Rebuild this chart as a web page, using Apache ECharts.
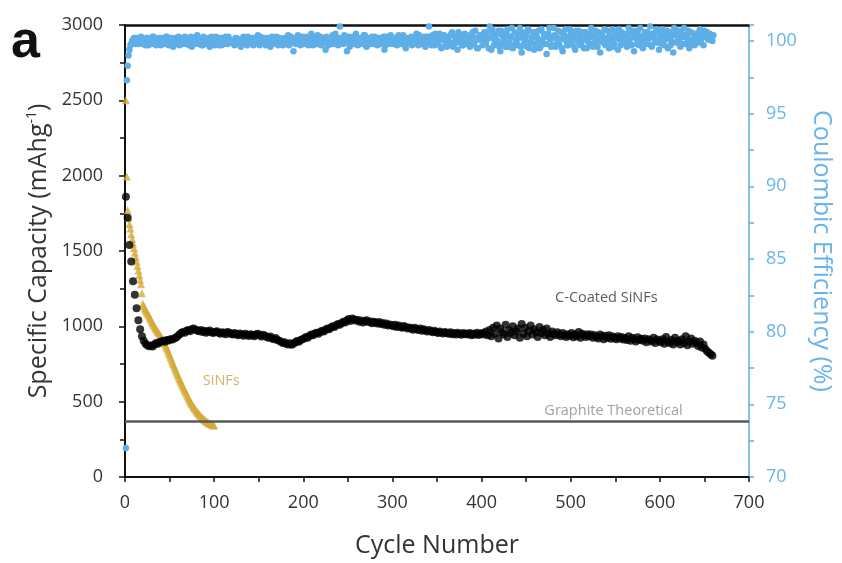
<!DOCTYPE html>
<html>
<head>
<meta charset="utf-8">
<script src="https://cdn.jsdelivr.net/npm/echarts@6/dist/echarts.min.js"></script>
<style>
html,body{margin:0;padding:0;background:#fff;}
#chart{width:842px;height:563px;}
</style>
</head>
<body>
<div id="chart"></div>
<script>
// C-Coated SiNFs specific capacity (mAh/g), cycles 1,3,5,...,659
const cCoatedCap = [
1860,1720,1540,1430,1300,1210,1120,1040,980,935,
905,885,875,868,872,866,880,890,884,896,
900,905,898,910,906,915,912,920,925,935,
945,955,962,958,970,975,968,980,985,978,
972,968,975,962,970,958,966,972,960,955,
962,968,958,950,960,955,948,962,957,950,
945,955,948,940,952,946,938,950,944,936,
948,942,935,945,950,940,932,944,938,930,
925,932,920,915,922,910,905,898,890,895,
885,880,888,878,885,895,902,898,910,915,
920,930,925,938,945,940,952,958,950,962,
970,965,978,985,980,992,1000,995,1008,1015,
1010,1022,1030,1025,1040,1048,1035,1052,1045,1038,
1042,1030,1038,1025,1035,1040,1028,1032,1020,1030,
1025,1018,1028,1015,1022,1010,1018,1005,1012,1008,
1000,1010,995,1005,998,990,1002,994,985,992,
985,978,990,982,975,985,970,980,972,965,
975,968,960,970,962,955,966,958,952,962,
955,950,960,948,956,945,958,950,944,955,
948,952,945,955,940,950,946,958,942,950,
955,945,965,940,975,935,990,950,1005,920,
985,960,945,1010,930,975,955,1000,940,968,
985,925,1015,950,990,935,970,1005,945,980,
960,930,995,955,975,940,985,950,930,965,
950,940,960,945,935,955,942,930,948,938,
955,928,945,935,962,925,950,940,930,948,
935,945,925,940,930,920,945,935,915,938,
925,940,918,932,926,915,935,920,930,912,
922,910,935,905,925,915,900,928,910,918,
905,920,895,915,908,900,925,890,912,905,
895,915,885,930,900,890,910,880,925,895,
905,880,915,890,935,875,900,920,885,905,
890,870,900,860,880,850,835,825,815,805
];
// Coulombic efficiency (%) of C-Coated SiNFs, odd cycles 1,3,...,659
const coulombicEffOdd = [
72.0,98.3,99.4,99.8,100.1,99.9,100.2,99.8,100.0,99.9,
100.1,99.7,100.2,99.9,99.8,100.3,100.0,99.7,100.1,99.9,
100.2,99.8,100.0,100.3,99.7,99.9,100.1,99.8,100.2,100.0,
99.7,100.1,99.9,100.3,99.8,100.0,100.2,99.6,100.1,99.9,
100.4,99.8,100.0,99.7,100.2,99.9,100.1,99.6,100.3,100.0,
99.8,100.1,99.7,100.2,100.0,99.9,100.3,99.8,100.1,99.9,
100.0,99.7,100.2,99.9,100.1,99.8,100.3,100.0,99.7,100.1,
99.9,100.2,99.8,100.0,100.4,99.7,100.1,99.9,100.2,99.8,
100.0,99.6,100.3,99.9,100.1,99.8,100.2,100.0,99.7,100.1,
99.9,100.4,99.8,100.0,99.3,100.2,99.9,100.1,99.7,100.3,
100.0,99.8,100.2,99.9,100.5,99.7,100.1,100.0,99.8,100.3,
99.9,100.1,99.4,100.2,100.0,99.8,100.4,99.9,100.1,99.7,
101.0,100.2,99.8,100.0,99.3,100.3,99.9,100.1,99.8,100.5,
99.7,100.0,100.2,99.9,100.4,99.6,100.1,99.8,100.3,99.9,
100.0,99.7,100.2,99.9,100.1,99.4,100.3,99.8,100.0,100.2,
99.9,100.1,99.7,100.4,100.0,99.8,100.2,99.5,100.1,99.9,
100.3,99.8,100.0,100.5,99.7,100.2,99.9,100.1,99.6,100.3,
101.0,99.8,100.4,99.7,100.1,99.9,100.5,99.5,100.2,100.0,
99.6,100.3,99.9,100.6,99.8,100.1,99.4,100.4,100.0,99.7,
100.5,99.9,100.2,99.6,100.3,99.8,100.7,99.5,100.1,100.4,
99.7,100.6,99.9,100.2,101.0,99.4,100.5,100.0,99.8,100.7,
99.3,100.4,100.1,99.6,100.8,99.9,100.3,99.5,100.6,100.0,
99.7,100.9,99.2,100.4,100.1,99.6,100.7,99.9,100.3,99.4,
100.6,100.0,99.5,100.8,99.8,100.3,99.1,100.5,100.1,99.7,
100.9,99.6,100.2,99.8,100.6,99.3,100.4,100.0,99.7,100.8,
99.9,100.5,99.4,100.2,100.7,99.7,100.1,99.5,100.6,100.0,
99.8,100.9,99.6,100.3,99.9,100.6,99.2,100.4,100.1,99.7,
100.7,99.5,100.2,100.8,99.8,100.4,99.4,100.1,100.6,99.9,
100.3,99.6,100.9,99.8,100.5,99.3,100.2,100.7,99.7,100.1,
99.5,100.6,100.0,99.8,101.0,99.6,100.4,99.9,100.7,99.4,
100.2,100.8,99.7,100.3,99.5,100.6,100.0,99.2,100.5,99.9,
100.7,99.6,100.3,100.9,99.8,100.4,99.5,100.6,100.1,99.7,
100.5,99.9,100.8,100.2,99.7,100.4,100.6,100.1,100.3,100.0
];
// Coulombic efficiency (%) of C-Coated SiNFs, even cycles 2,4,...,660
const coulombicEffEven = [
97.3,99.0,99.7,100.0,100.2,99.8,100.1,99.9,100.3,99.8,
100.0,100.2,99.7,100.1,99.9,100.3,99.8,100.0,100.2,99.7,
100.1,99.9,100.3,99.8,100.0,100.2,99.6,100.1,99.9,100.3,
100.0,99.8,100.2,99.9,100.1,99.7,100.3,100.0,99.8,100.2,
99.9,100.1,99.7,100.3,100.0,99.8,100.2,99.9,100.1,99.7,
100.3,99.9,100.0,99.7,100.2,99.8,100.1,100.3,99.9,100.0,
99.8,100.2,99.9,100.1,99.6,100.0,100.2,99.8,100.3,99.9,
100.1,99.7,100.2,100.0,99.8,100.3,99.9,100.1,99.7,100.2,
99.9,100.2,99.8,100.0,100.3,99.7,100.1,99.9,100.2,99.8,
100.0,99.7,100.3,99.9,100.1,99.8,100.4,100.0,99.8,100.1,
99.9,100.3,99.7,100.1,99.9,100.2,99.8,100.4,100.0,99.7,
100.2,99.9,100.3,99.7,100.1,100.0,99.8,100.5,99.9,100.2,
99.8,100.1,100.4,99.9,100.2,99.6,100.0,100.3,99.8,100.1,
100.2,99.8,100.0,100.4,99.7,100.2,99.9,100.1,99.8,100.3,
99.9,100.2,99.8,100.0,100.3,99.7,100.1,99.9,100.4,99.8,
100.2,99.9,100.3,99.8,100.0,100.4,99.7,100.2,99.9,100.1,
99.7,100.2,99.9,100.1,100.4,99.8,100.0,100.3,99.8,100.1,
100.3,99.7,100.0,100.5,99.8,100.2,99.6,100.1,100.4,99.9,
100.2,99.8,100.5,99.6,100.3,99.9,100.6,100.0,99.7,100.3,
99.8,100.4,100.0,99.7,100.6,99.9,100.2,99.5,100.4,100.1,
100.3,99.8,100.6,99.5,100.2,100.8,99.7,100.4,100.0,99.6,
100.7,99.8,100.2,100.5,99.6,100.3,100.9,99.7,100.1,100.5,
100.2,99.6,100.6,99.9,100.4,100.8,99.5,100.2,100.6,99.8,
100.3,100.7,99.6,100.1,100.5,99.8,100.4,100.9,99.6,100.2,
100.4,99.8,100.7,100.1,99.5,100.3,100.8,99.7,100.2,100.5,
100.2,99.6,100.7,100.0,100.4,99.8,100.6,100.2,99.5,100.3,
100.5,99.8,100.2,100.7,99.6,100.1,100.5,99.9,100.8,100.2,
99.9,100.4,100.0,99.6,100.6,100.2,100.8,99.7,100.3,100.5,
99.9,100.5,100.1,99.7,100.7,100.3,99.8,100.4,100.9,100.0,
100.3,99.8,100.6,100.2,99.7,100.5,100.1,100.8,99.9,100.4,
99.8,100.5,100.1,100.7,100.2,99.7,100.4,100.9,99.9,100.3,
100.1,100.6,99.8,100.4,100.2,100.7,100.0,99.8,100.5,100.3,
100.2,100.6,99.9,100.4,100.7,100.3,100.1,100.5,100.2,100.4
];
// Bare SiNFs specific capacity (mAh/g), cycles 1..100
const sinfCap = [
2500,1995,1770,1720,1680,1650,1612,1580,1550,1520,
1490,1460,1430,1400,1370,1340,1310,1280,1220,1150,
1135,1120,1110,1100,1090,1080,1070,1055,1045,1030,
1020,1010,1000,990,980,972,962,955,945,935,
925,915,905,895,882,868,855,840,825,810,
795,780,765,750,736,722,708,694,680,665,
651,638,625,612,600,588,576,564,552,540,
528,516,505,494,484,474,465,456,448,440,
432,425,418,411,404,398,392,386,380,375,
370,366,362,358,355,352,349,346,344,342
];
const graphiteTheoretical = 372;
const xTicks = [0,100,200,300,400,500,600,700];
const capTicks = [0,500,1000,1500,2000,2500,3000];
const ceTicks = [70,75,80,85,90,95,100];
// annotation anchors [cycle, capacity]
const annotations = [
  {text:'C-Coated SiNFs', at:[540, 1118], color:'#333333'},
  {text:'Graphite Theoretical', at:[548, 372], color:'#8a8a8a'},
  {text:'SiNFs', at:[108, 566], color:'#c9a43c'}
];

const cCycles = cCoatedCap.map((_, i) => 1 + 2 * i);
const ceData = coulombicEffOdd.map((v, i) => [1 + 2 * i, v])
  .concat(coulombicEffEven.map((v, i) => [2 + 2 * i, v]));
const sinfCycles = sinfCap.map((_, i) => 1 + i);

const FONT = '"Open Sans", "DejaVu Sans", sans-serif';
const BLUE = '#5eaee8';
const GOLD = '#d3aa3a';

const chart = echarts.init(document.getElementById('chart'), null, {renderer: 'canvas'});
chart.setOption({
  animation: false,
  backgroundColor: '#ffffff',
  textStyle: {fontFamily: FONT},
  grid: {left: 125, right: 85, top: 25, bottom: 81, containLabel: false},
  xAxis: [{
    type: 'value', position: 'bottom',
    min: xTicks[0], max: xTicks[xTicks.length - 1], interval: 100,
    axisLine: {show: true, onZero: false, lineStyle: {color: '#111', width: 2}},
    axisTick: {show: true, length: 5, inside: false, lineStyle: {color: '#111', width: 1.5}},
    minorTick: {show: true, splitNumber: 2, length: 5, lineStyle: {color: '#111', width: 1.5}},
    splitLine: {show: false},
    axisLabel: {color: '#333', fontSize: 18, fontFamily: FONT, margin: 17,
      formatter: v => String(v)},
    name: 'Cycle Number', nameLocation: 'middle', nameGap: 56,
    nameTextStyle: {color: '#333', fontSize: 25, fontFamily: FONT}
  }, {
    type: 'value', position: 'top',
    min: xTicks[0], max: xTicks[xTicks.length - 1],
    axisLine: {show: true, onZero: false, lineStyle: {color: '#111', width: 2.5}},
    axisTick: {show: false}, axisLabel: {show: false}, splitLine: {show: false}
  }],
  yAxis: [{
    type: 'value', position: 'left',
    min: capTicks[0], max: capTicks[capTicks.length - 1], interval: 500,
    axisLine: {show: true, onZero: false, lineStyle: {color: '#111', width: 2}},
    axisTick: {show: true, length: 6, lineStyle: {color: '#111', width: 1.5}},
    minorTick: {show: true, splitNumber: 2, length: 5, lineStyle: {color: '#111', width: 1.5}},
    splitLine: {show: false},
    axisLabel: {color: '#333', fontSize: 18, fontFamily: FONT, margin: 22,
      formatter: v => String(v)},
    name: 'Specific Capacity (mAhg{sup|-1})', nameLocation: 'middle', nameGap: 70,
    nameTextStyle: {color: '#333', fontSize: 25, fontFamily: FONT,
      rich: {sup: {fontSize: 14, color: '#333', fontFamily: FONT, verticalAlign: 'top', padding: [0, 0, 12, 0]}}}
  }, {
    type: 'value', position: 'right',
    min: ceTicks[0], max: 101.1, interval: 5,
    axisLine: {show: true, onZero: false, lineStyle: {color: BLUE, width: 1.5}},
    axisTick: {show: true, length: 5, lineStyle: {color: BLUE, width: 1.5}},
    minorTick: {show: true, splitNumber: 2, length: 5, lineStyle: {color: BLUE, width: 1.5}},
    splitLine: {show: false},
    axisLabel: {color: '#6ab4ea', fontSize: 18, fontFamily: FONT, margin: 17,
      showMaxLabel: false,
      formatter: v => (ceTicks.indexOf(v) >= 0 ? String(v) : '')},
    name: 'Coulombic Efficiency (%)', nameLocation: 'middle', nameGap: 60, nameRotate: -90,
    nameTextStyle: {color: '#6ab4ea', fontSize: 25, fontFamily: FONT}
  }],
  series: [{
    name: 'Coulombic Efficiency', type: 'scatter', xAxisIndex: 0, yAxisIndex: 1,
    symbol: 'circle', symbolSize: 6.5, itemStyle: {color: BLUE, opacity: 1},
    data: ceData, z: 2, silent: true
  }, {
    name: 'SiNFs', type: 'scatter', xAxisIndex: 0, yAxisIndex: 0,
    symbol: 'triangle', symbolSize: 8, itemStyle: {color: GOLD},
    data: sinfCycles.map((c, i) => [c, sinfCap[i]]), z: 3, silent: true
  }, {
    name: 'C-Coated SiNFs', type: 'scatter', xAxisIndex: 0, yAxisIndex: 0,
    symbol: 'circle', symbolSize: 8, itemStyle: {color: '#000'},
    data: cCycles.map((c, i) => [c, cCoatedCap[i]]), z: 4, silent: true,
    markLine: {
      silent: true, symbol: ['none', 'none'], label: {show: false},
      lineStyle: {color: '#5a5a5a', width: 2.5, type: 'solid'},
      data: [{yAxis: graphiteTheoretical}]
    }
  }, {
    name: 'annotations', type: 'scatter', xAxisIndex: 0, yAxisIndex: 0,
    symbolSize: 0, silent: true, z: 5,
    data: annotations.map(a => ({
      value: a.at,
      label: {show: true, formatter: a.text, position: 'top', distance: 3,
        color: a.color, fontSize: 14.5, fontFamily: FONT}
    }))
  }],
  graphic: [{
    type: 'text', left: 11, top: 17,
    style: {text: 'a', font: '700 52px "Liberation Sans", Arial, sans-serif', fill: '#111'}
  }]
});
</script>
</body>
</html>
